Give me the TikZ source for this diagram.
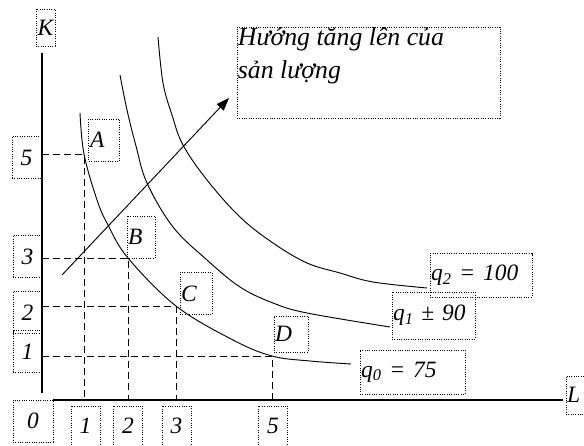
\documentclass[tikz,border=0pt]{standalone}
\usepackage{fontspec}
\setmainfont{Liberation Serif}
\usetikzlibrary{arrows.meta}
\newcommand\lblfont{\itshape\fontsize{20}{23}\selectfont}
\tikzset{
  lbl/.style={draw, dash pattern=on 0.8pt off 1.2pt, line width=0.8pt, inner sep=1pt, font=\lblfont},
  tickbox/.style={lbl, minimum width=0.87cm, minimum height=1.26cm},
  ptbox/.style={lbl, align=left, minimum height=1.26cm},
  qbox/.style={lbl, align=left, minimum height=1.3cm},
  guide/.style={dash pattern=on 6pt off 3.5pt, line width=0.8pt},
  isoq/.style={line width=0.8pt},
}
\begin{document}
\begin{tikzpicture}[x=0.03cm, y=0.03cm]
\useasboundingbox (0,0) rectangle (584,446);

% axes
\coordinate (O) at (42,46);
\draw[line width=1.3pt] (42,53) -- (42,393);
\draw[line width=1.3pt] (53,46) -- (563,46);

% points on q0
\coordinate (A) at (84,292);
\coordinate (B) at (128,188);
\coordinate (C) at (176,140);
\coordinate (D) at (272,90);
\draw[guide] (A -| O) -- (A) -- (A |- O);
\draw[guide] (B -| O) -- (B) -- (B |- O);
\draw[guide] (C -| O) -- (C) -- (C |- O);
\draw[guide] (D -| O) -- (D) -- (D |- O);

% isoquants
\draw[isoq] plot[smooth, tension=0.6] coordinates {(80,333) (84,292) (97,246) (108,221) (128,188) (176,140) (233,106) (272,90) (310,85) (351,82)};
\draw[isoq] plot[smooth, tension=0.6] coordinates {(120,371) (127,336) (136,300) (147,263) (173,219) (207,186) (240,159) (273,143) (307,133) (390,119)};
\draw[isoq] plot[smooth, tension=0.6] coordinates {(158,409) (163,363) (172,331) (183,301) (207,266) (240,229) (273,203) (307,183) (340,173) (373,164) (427,158)};

% direction of growth
\coordinate (gs) at (62,171);
\coordinate (ge) at (229,348);
\draw[line width=0.8pt, -{Triangle[length=11pt,width=8pt]}] (gs) -- (ge);

% labels
\node[lbl, minimum width=0.57cm, minimum height=1.11cm] (K) at (45.5,418.5) {K};
\node[lbl, minimum width=7.89cm, minimum height=2.73cm] (note) at (368.5,373.5) {};
\node[anchor=north west, align=left, inner sep=1pt, font=\itshape\fontsize{22}{28}\selectfont] (notetext) at (note.north west) {Hướng tăng lên của\\sản lượng};

\node[tickbox] (y5) at (26.5,288.5) {5};
\node[tickbox] (y3) at (27.5,189.5) {3};
\node[tickbox] (y2) at (27.5,133.5) {2};
\node[tickbox] (y1) at (27.5,94.5) {1};
\node[tickbox, minimum width=1.2cm] (o) at (33,25) {0};
\node[tickbox, minimum height=1.2cm] (x1) at (85.5,20) {1};
\node[tickbox, minimum height=1.2cm] (x2) at (128,20) {2};
\node[tickbox, minimum height=1.2cm] (x3) at (176.5,20) {3};
\node[tickbox, minimum height=1.2cm] (x5) at (273,20) {5};

\node[ptbox, text width=0.84cm] (lA) at (104,306) {A};
\node[ptbox, text width=0.77cm] (lB) at (141,209) {B};
\node[ptbox, text width=0.89cm] (lC) at (196,152.5) {C};
\node[ptbox, text width=0.95cm, minimum height=1.08cm] (lD) at (291,112) {D};

\node[qbox, text width=2.99cm] (q2) at (481,170.5) {q\textsubscript{2} = 100};
\node[qbox, text width=2.42cm, minimum height=1.41cm] (q1) at (433.5,130.5) {q\textsubscript{1} ± 90};
\node[qbox, text width=3.08cm, minimum height=1.32cm] (q0) at (412.5,74) {q\textsubscript{0} = 75};
\node[ptbox, text width=0.65cm, minimum height=1.14cm] (lL) at (578,51) {L};

\end{tikzpicture}
\end{document}
